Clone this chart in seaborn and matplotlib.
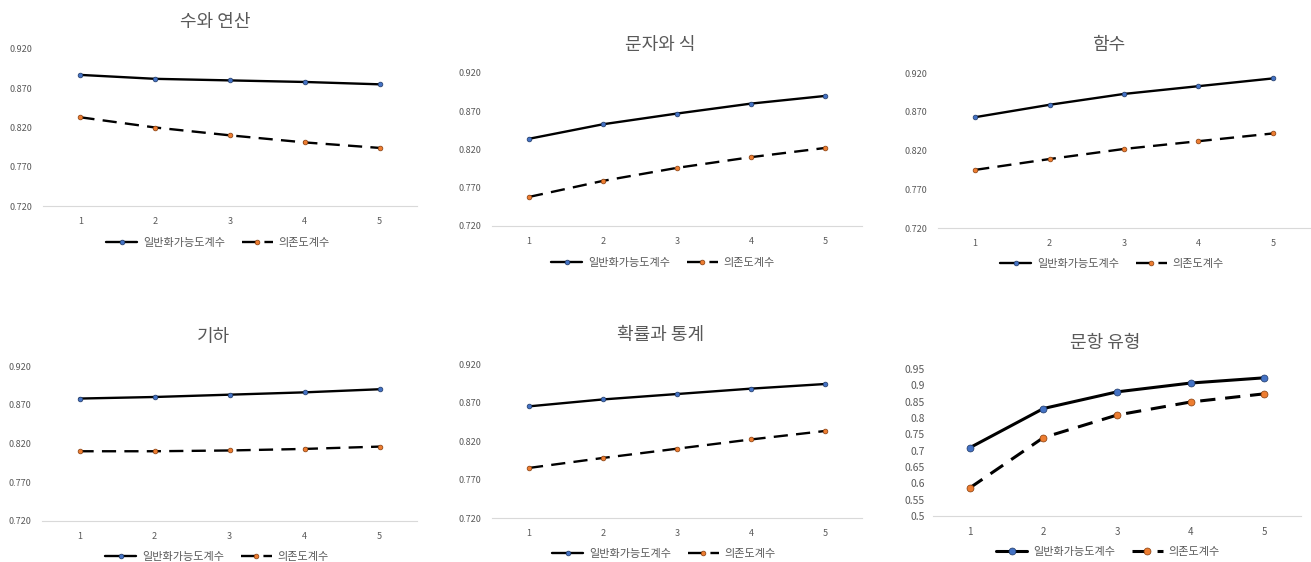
import numpy as np
import pandas as pd
import matplotlib
matplotlib.use("Agg")
import matplotlib.pyplot as plt
import seaborn as sns
from matplotlib.lines import Line2D
from matplotlib.ticker import FixedLocator, FuncFormatter

sns.set_style("white")
plt.rcParams["font.family"] = ["Noto Sans CJK KR", "DejaVu Sans"]

# ---------------- data ----------------
x_levels = [1, 2, 3, 4, 5]
series_names = ["일반화가능도계수", "의존도계수"]
titles = ["수와 연산", "문자와 식", "함수", "기하", "확률과 통계", "문항 유형"]

num_ops_g = [0.887, 0.882, 0.880, 0.878, 0.875]
num_ops_phi = [0.833, 0.820, 0.810, 0.801, 0.794]
letters_g = [0.834, 0.853, 0.867, 0.880, 0.890]
letters_phi = [0.758, 0.779, 0.796, 0.810, 0.822]
func_g = [0.863, 0.879, 0.893, 0.903, 0.913]
func_phi = [0.795, 0.809, 0.822, 0.832, 0.842]
geom_g = [0.878, 0.880, 0.883, 0.886, 0.890]
geom_phi = [0.810, 0.810, 0.811, 0.813, 0.816]
prob_g = [0.865, 0.874, 0.881, 0.888, 0.894]
prob_phi = [0.785, 0.798, 0.810, 0.822, 0.833]
item_g = [0.709, 0.829, 0.880, 0.907, 0.923]
item_phi = [0.586, 0.740, 0.809, 0.849, 0.874]

small_ticks = [0.720, 0.770, 0.820, 0.870, 0.920]
item_ticks = [0.5, 0.55, 0.6, 0.65, 0.7, 0.75, 0.8, 0.85, 0.9, 0.95]

W, H = 1311, 562
fig = plt.figure(figsize=(W / 100, H / 100), dpi=100)

GRAY = "#595959"
BLUE, BLUE_E = "#4472C4", "#1F3864"
ORANGE, ORANGE_E = "#ED7D31", "#843C0C"

# (title, g, phi, axes box l,t,r,b, title center, legend center, yticks, big)
panels = [
    (titles[0], num_ops_g, num_ops_phi, (43, 49, 417, 206), (215, 22), (218, 243), small_ticks, False),
    (titles[1], letters_g, letters_phi, (492, 73, 862, 226), (660, 45), (663, 263), small_ticks, False),
    (titles[2], func_g, func_phi, (938, 73, 1310, 228), (1109, 45), (1112, 264), small_ticks, False),
    (titles[3], geom_g, geom_phi, (42, 366, 417, 521), (214, 337), (217, 557), small_ticks, False),
    (titles[4], prob_g, prob_phi, (492, 364, 862, 518), (661, 335), (664, 554), small_ticks, False),
    (titles[5], item_g, item_phi, (933, 369, 1301, 516), (1105, 343), (1108, 552), item_ticks, True),
]

for title, g, phi, (l, t, r, b), (tx, ty), (lx, ly), yt, big in panels:
    ax = fig.add_axes([l / W, 1 - b / H, (r - l) / W, (b - t) / H])
    df = pd.DataFrame({
        "x": x_levels * 2,
        "v": list(g) + list(phi),
        "s": [series_names[0]] * 5 + [series_names[1]] * 5,
    })
    lw = 2.2 if big else 1.7
    ms = 5.0 if big else 3.4
    dash = (5, 3.2) if big else (6, 3.5)
    sns.lineplot(data=df, x="x", y="v", style="s",
                 dashes={series_names[0]: "", series_names[1]: dash},
                 color="black", linewidth=lw, ax=ax, legend=False, zorder=2)
    for name, fc, ec in [(series_names[0], BLUE, BLUE_E), (series_names[1], ORANGE, ORANGE_E)]:
        sub = df[df["s"] == name]
        sns.scatterplot(data=sub, x="x", y="v", color=fc, edgecolor=ec,
                        linewidth=0.5, s=ms ** 2, ax=ax, legend=False, zorder=3)
    ax.set_xlim(0.5, 5.5)
    ax.set_ylim(yt[0], yt[-1])
    ax.yaxis.set_major_locator(FixedLocator(yt))
    ax.xaxis.set_major_locator(FixedLocator(x_levels))
    if big:
        ax.yaxis.set_major_formatter(FuncFormatter(lambda v, p: f"{v:g}"))
        yfs = 7.5
    else:
        ax.yaxis.set_major_formatter(FuncFormatter(lambda v, p: f"{v:.3f}"))
        yfs = 6.5
    ax.set_xlabel("")
    ax.set_ylabel("")
    ax.tick_params(axis="y", length=0, pad=6 if big else 8, labelsize=yfs, labelcolor=GRAY)
    ax.tick_params(axis="x", length=0, pad=8, labelsize=6.5 if not big else 7, labelcolor=GRAY)
    for sp in ["left", "right", "top"]:
        ax.spines[sp].set_visible(False)
    ax.spines["bottom"].set_color("#D9D9D9")
    ax.spines["bottom"].set_linewidth(0.8)
    ax.grid(False)
    ax.set_facecolor("none")

    fig.text(tx / W, 1 - ty / H, title, ha="center", va="center",
             fontsize=13, color=GRAY)

    handles = [
        Line2D([], [], color="black", lw=lw, marker="o", markersize=ms,
               markerfacecolor=BLUE, markeredgecolor=BLUE_E, markeredgewidth=0.5),
        Line2D([], [], color="black", lw=lw, ls=(0, dash), marker="o", markersize=ms,
               markerfacecolor=ORANGE, markeredgecolor=ORANGE_E, markeredgewidth=0.5),
    ]
    fig.legend(handles, series_names, loc="center", bbox_to_anchor=(lx / W, 1 - ly / H),
               ncol=2, frameon=False, fontsize=8, labelcolor=GRAY,
               handlelength=2.8, handletextpad=0.5, columnspacing=1.5,
               borderpad=0, borderaxespad=0)

fig.savefig("out.png", dpi=100, facecolor="white")
